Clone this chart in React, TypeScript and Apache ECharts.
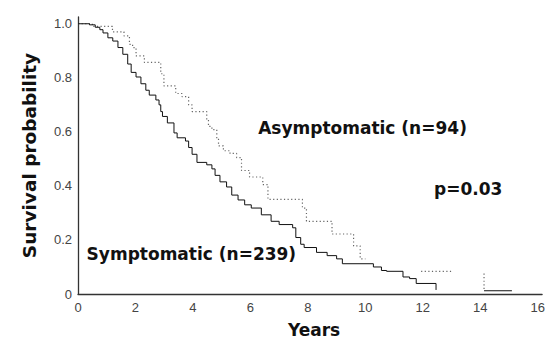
import React, { useEffect, useRef } from "react";
import * as echarts from "echarts";

// Kaplan-Meier steps: [years, survival after the step]; null marks a gap in the drawn curve
const symptomaticTimes = [0, 0.4, 0.6, 0.76, 0.87, 1.04, 1.21, 1.39, 1.56, 1.73, 1.85, 2.02, 2.19, 2.36, 2.48, 2.71, 2.82, 2.88, 2.94, 3.11, 3.34, 3.45, 3.74, 3.85, 3.97, 4.14, 4.48, 4.66, 4.77, 4.94, 5.17, 5.35, 5.57, 5.8, 6.03, 6.38, 6.72, 7.0, 7.47, 7.58, 7.75, 7.87, 8.3, 8.67, 9.0, 9.2, 10.28, 10.56, 10.74, 11.31, 11.54, 11.77, 12.46, 12.47, 14.13, 15.1];
const symptomaticSurv = [1.0, 0.996, 0.987, 0.978, 0.966, 0.948, 0.936, 0.912, 0.887, 0.851, 0.82, 0.803, 0.778, 0.754, 0.736, 0.718, 0.7, 0.675, 0.657, 0.633, 0.596, 0.578, 0.566, 0.542, 0.517, 0.487, 0.478, 0.463, 0.439, 0.415, 0.396, 0.366, 0.348, 0.33, 0.318, 0.293, 0.269, 0.257, 0.245, 0.209, 0.184, 0.172, 0.154, 0.142, 0.13, 0.112, 0.1, 0.087, 0.084, 0.063, 0.057, 0.039, 0.015, null, 0.012, 0.012];

const asymptomaticTimes = [0, 0.5, 1.2, 1.6, 1.79, 1.9, 2.02, 2.31, 2.88, 2.99, 3.4, 3.62, 3.85, 3.97, 4.48, 4.54, 4.66, 4.83, 4.89, 5.06, 5.29, 5.52, 5.69, 5.97, 6.43, 6.61, 7.81, 7.95, 8.84, 9.59, 9.82, 10.0, 10.01, 11.94, 13.03, 13.04, 14.13, 14.13];
const asymptomaticSurv = [1.0, 0.99, 0.97, 0.955, 0.924, 0.912, 0.881, 0.857, 0.815, 0.77, 0.742, 0.73, 0.7, 0.675, 0.645, 0.62, 0.608, 0.578, 0.548, 0.53, 0.52, 0.505, 0.457, 0.433, 0.405, 0.35, 0.318, 0.269, 0.222, 0.178, 0.13, 0.13, null, 0.084, 0.084, null, 0.076, 0.012];

const xTickValues = [0, 2, 4, 6, 8, 10, 12, 14, 16];
const xTickLabels = ["0", "2", "4", "6", "8", "10", "12", "14", "16"];
const yTickValues = [0, 0.2, 0.4, 0.6, 0.8, 1.0];
const yTickLabels = ["0", "0.2", "0.4", "0.6", "0.8", "1.0"];

const annotations = [
  { text: "Asymptomatic (n=94)", x: 6.27, y: 0.615 },
  { text: "p=0.03", x: 12.39, y: 0.39 },
  { text: "Symptomatic (n=239)", x: 0.3, y: 0.148 },
];

const pair = (ts: number[], ss: (number | null)[]) => ts.map((t, i) => [t, ss[i]]);

export default function App() {
  const ref = useRef<HTMLDivElement>(null);
  useEffect(() => {
    if (!ref.current) return;
    const chart = echarts.init(ref.current, undefined, { renderer: "svg" });
    const boldFont = "DejaVu Sans";
    chart.setOption({
      animation: false,
      backgroundColor: "#ffffff",
      grid: { left: 78, right: 0, top: 17, bottom: 44, containLabel: false },
      xAxis: {
        type: "value",
        min: 0,
        max: 16.15,
        interval: 2,
        name: "Years",
        nameLocation: "middle",
        nameGap: 27,
        nameTextStyle: { fontFamily: boldFont, fontWeight: "bold", fontSize: 17, color: "#111", verticalAlign: "top", padding: [0, 0, 0, 8] },
        axisLine: { show: true, lineStyle: { color: "#333", width: 1.3 } },
        axisTick: { show: false },
        splitLine: { show: false },
        axisLabel: {
          margin: 7,
          fontFamily: "Liberation Sans",
          fontSize: 13,
          color: "#444",
          formatter: (v: number) => {
            const i = xTickValues.findIndex((t) => Math.abs(t - v) < 1e-6);
            return i >= 0 ? xTickLabels[i] : "";
          },
        },
      },
      yAxis: {
        type: "value",
        min: 0,
        max: 1.025,
        interval: 0.2,
        name: "Survival probability",
        nameLocation: "middle",
        nameGap: 39,
        nameRotate: 90,
        nameTextStyle: { fontFamily: boldFont, fontWeight: "bold", fontSize: 18.5, color: "#111", padding: [0, 0, 0, 0] },
        axisLine: { show: true, lineStyle: { color: "#333", width: 1.3 } },
        axisTick: { show: false },
        splitLine: { show: false },
        axisLabel: {
          margin: 6,
          fontFamily: "Liberation Sans",
          fontSize: 13,
          color: "#444",
          formatter: (v: number) => {
            const i = yTickValues.findIndex((t) => Math.abs(t - v) < 1e-6);
            return i >= 0 ? yTickLabels[i] : "";
          },
        },
      },
      series: [
        {
          name: "Symptomatic (n=239)",
          type: "line",
          step: "end",
          showSymbol: false,
          connectNulls: false,
          lineStyle: { color: "#111", width: 1 },
          data: pair(symptomaticTimes, symptomaticSurv),
          z: 3,
        },
        {
          name: "Asymptomatic (n=94)",
          type: "line",
          step: "end",
          showSymbol: false,
          connectNulls: false,
          lineStyle: { color: "#666", width: 1.2, type: [1.2, 2.4] },
          data: pair(asymptomaticTimes, asymptomaticSurv),
          z: 2,
        },
        {
          type: "scatter",
          symbolSize: 0,
          silent: true,
          itemStyle: { opacity: 1 },
          data: annotations.map((a) => [a.x, a.y]),
          label: {
            show: true,
            position: "right",
            distance: 0,
            opacity: 1,
            formatter: (p: any) => annotations[p.dataIndex].text,
            fontFamily: boldFont,
            fontWeight: "bold",
            fontSize: 17,
            color: "#111",
          },
        },
      ],
    });
    return () => chart.dispose();
  }, []);
  return <div ref={ref} style={{ position: "absolute", left: 0, top: 0, width: 548, height: 343 }} />;
}
